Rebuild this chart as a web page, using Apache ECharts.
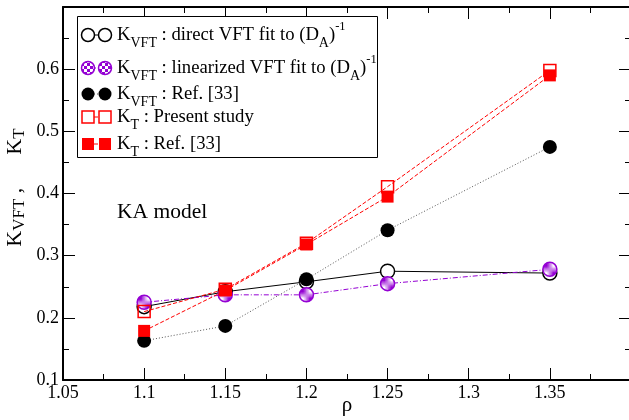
<!DOCTYPE html>
<html><head><meta charset="utf-8">
<script src="https://cdn.jsdelivr.net/npm/echarts@6/dist/echarts.min.js"></script>
<style>html,body{margin:0;padding:0;background:#fff}#c{width:629px;height:420px}</style>
</head><body><div id="c"></div>
<script>
// ---- data ----
const rho = [1.1, 1.15, 1.2, 1.25, 1.35];
const kvftDirect = [0.218, 0.242, 0.258, 0.275, 0.272];
const kvftLinear = [0.225, 0.237, 0.237, 0.255, 0.278];
const kvftRef = [0.163, 0.187, 0.262, 0.341, 0.475];
const ktPresent = [0.21, 0.246, 0.32, 0.411, 0.598];
const ktRef = [0.179, 0.244, 0.318, 0.395, 0.59];
const xRange = [1.05, 1.4];
const yRange = [0.1, 0.7];
const annotation = 'KA model';

const FONT = 'Liberation Serif';
const PURPLE = '#9400d3';
const RED = '#ff0000';

// checkered pattern
const pc = document.createElement('canvas');
pc.width = 6; pc.height = 6;
const g = pc.getContext('2d');
g.fillStyle = '#fff'; g.fillRect(0,0,6,6);
g.fillStyle = PURPLE; g.fillRect(0,0,3,3); g.fillRect(3,3,3,3);
const checker = {image: pc, repeat: 'repeat'};

function pairs(ys){ return rho.map((x,i)=>[x, ys[i]]); }

const seriesDefs = [
  {data: kvftDirect, symbol:'circle', size:14, fill:'#fff', stroke:'#000', bw:1.5, line:{color:'#000', width:1, type:'solid'},
   label:'{k|K}{sub|VFT}{k| : direct VFT fit to (D}{sub|A}{k|)}{sup|-1}'},
  {data: kvftLinear, symbol:'circle', size:14, fill:checker, stroke:PURPLE, bw:1.5, line:{color:PURPLE, width:1, type:[5,2,1,2]},
   label:'{k|K}{sub|VFT}{k| : linearized VFT fit to (D}{sub|A}{k|)}{sup|-1}'},
  {data: kvftRef, symbol:'circle', size:14, fill:'#000', stroke:'#000', bw:0, line:{color:'#555', width:1, type:[1,2]},
   label:'{k|K}{sub|VFT}{k| : Ref. [33]}'},
  {data: ktPresent, symbol:'rect', size:12, fill:'rgba(255,255,255,0)', stroke:RED, bw:1.5, line:{color:RED, width:1, type:[4,2]},
   label:'{k|K}{sub|T}{k| : Present study}'},
  {data: ktRef, symbol:'rect', size:12, fill:RED, stroke:RED, bw:0, line:{color:RED, width:1, type:[4,2]},
   label:'{k|K}{sub|T}{k| : Ref. [33]}'}
];

const rich = {
  k: {fontFamily: FONT, fontSize: 18.7, color:'#000', lineHeight: 30},
  sub: {fontFamily: FONT, fontSize: 14, color:'#000', lineHeight: 14, verticalAlign:'bottom'},
  sup: {fontFamily: FONT, fontSize: 12.5, color:'#000', lineHeight: 10, verticalAlign:'top'}
};

// legend graphics
const legendY = [35, 68, 94, 117, 144];
const legendGraphics = [{
  type:'rect', shape:{x:77.5, y:16.5, width:300, height:141}, style:{fill:'#fff', stroke:'#000', lineWidth:1}, z:10
}];
seriesDefs.forEach((s, i) => {
  const y = legendY[i], x1 = 88, x2 = 105;
  legendGraphics.push({type:'line', shape:{x1:x1, y1:y, x2:x2, y2:y}, style:{stroke:s.line.color, lineWidth:1, lineDash:s.line.type==='solid'?null:s.line.type}, z:11});
  [x1, x2].forEach(x => {
    if (s.symbol === 'circle') {
      legendGraphics.push({type:'circle', shape:{cx:x, cy:y, r:s.size/2 - 0.5}, style:{fill:s.fill, stroke:s.bw? s.stroke : null, lineWidth:s.bw}, z:12});
    } else {
      legendGraphics.push({type:'rect', shape:{x:x - s.size/2, y:y - s.size/2, width:s.size, height:s.size}, style:{fill:s.fill==='rgba(255,255,255,0)'?'#fff':s.fill, stroke:s.bw? s.stroke : null, lineWidth:s.bw}, z:12});
    }
  });
  legendGraphics.push({type:'text', x:117, y:y, style:{text:s.label, rich:rich, verticalAlign:'middle', align:'left'}, z:12});
});
legendGraphics.push({type:'text', x:117, y:212, style:{text:annotation, fontFamily:FONT, fontSize:21.5, fill:'#000', verticalAlign:'middle'}, z:5});

const axisLine = {show:true, onZero:false, lineStyle:{color:'#000', width:2}};
const tick = {show:true, inside:true, length:12, lineStyle:{color:'#000', width:1}};
const minor = {show:true, splitNumber:2, length:6, lineStyle:{color:'#000', width:1}};
const fmt = v => String(+v.toFixed(2));

const option = {
  animation: false,
  backgroundColor: '#fff',
  grid: {left: 63, top: 7, right: -2, bottom: 40, containLabel:false, outerBoundsMode:'none'},
  xAxis: [{
    type:'value', min:xRange[0], max:xRange[1], interval:0.05, position:'bottom',
    axisLine, axisTick:tick, minorTick:minor, splitLine:{show:false},
    axisLabel:{fontFamily:FONT, fontSize:18, color:'#000', margin:4, formatter:fmt, showMaxLabel:false},
    name:'ρ', nameLocation:'middle', nameGap:15, nameMoveOverlap:false,
    nameTextStyle:{fontFamily:FONT, fontSize:21, color:'#000'}
  },{
    type:'value', min:xRange[0], max:xRange[1], interval:0.05, position:'top',
    axisLine, axisTick:tick, minorTick:minor, splitLine:{show:false}, axisLabel:{show:false}
  }],
  yAxis: [{
    type:'value', min:yRange[0], max:yRange[1], interval:0.1, position:'left',
    axisLine, axisTick:tick, minorTick:minor, splitLine:{show:false},
    axisLabel:{fontFamily:FONT, fontSize:18, color:'#000', margin:4, formatter:fmt, showMaxLabel:false},
    name:'{k|K}{sub|VFT}{k| ,      K}{sub|T}', nameLocation:'middle', nameGap:35, nameRotate:90, nameMoveOverlap:false,
    nameTextStyle:{padding:[0,0,0,12], rich:{
      k:{fontFamily:FONT, fontSize:22, color:'#000', lineHeight:26},
      sub:{fontFamily:FONT, fontSize:17, color:'#000', lineHeight:15, verticalAlign:'bottom'}
    }}
  },{
    type:'value', min:yRange[0], max:yRange[1], interval:0.1, position:'right',
    axisLine, axisTick:tick, minorTick:minor, splitLine:{show:false}, axisLabel:{show:false}
  }],
  series: seriesDefs.map((s, i) => ({
    type:'line', data: pairs(s.data), symbol:s.symbol, symbolSize:s.size, z: 3 + i,
    lineStyle:{color:s.line.color, width:s.line.width, type:s.line.type},
    itemStyle:{color:s.fill, borderColor:s.stroke, borderWidth:s.bw},
    emphasis:{disabled:true}
  })),
  graphic: legendGraphics
};
echarts.init(document.getElementById('c')).setOption(option);
</script></body></html>
